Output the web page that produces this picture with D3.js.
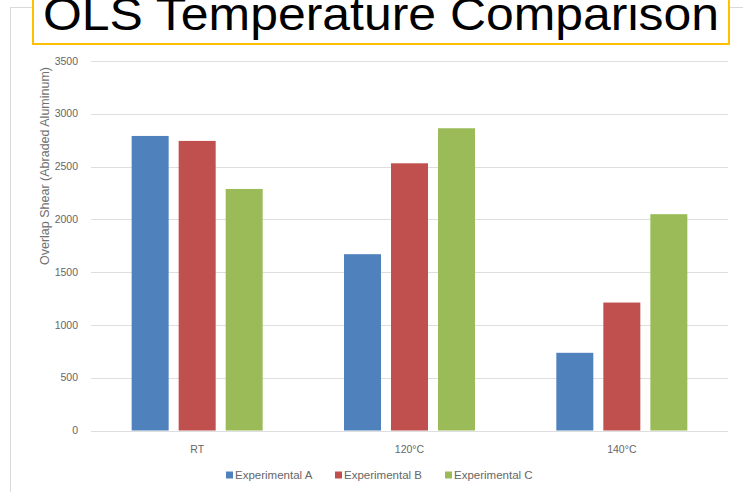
<!DOCTYPE html>
<html>
<head>
<meta charset="utf-8">
<script src="https://cdn.jsdelivr.net/npm/d3@7"></script>
<style>
  html, body { margin: 0; padding: 0; background: #fff; }
  svg { display: block; font-family: "Liberation Sans", Arial, sans-serif; }
</style>
</head>
<body>
<svg id="chart" width="743" height="492"></svg>
<script>
const categories = ["RT", "120°C", "140°C"];
const seriesNames = ["Experimental A", "Experimental B", "Experimental C"];
const experimentalA = [2790, 1670, 736];
const experimentalB = [2743, 2531, 1212];
const experimentalC = [2288, 2863, 2049];
const yTicks = [0, 500, 1000, 1500, 2000, 2500, 3000, 3500];
const colors = ["#4F81BD", "#C0504D", "#9BBB59"];
const titleText = "OLS Temperature Comparison";
const yTitle = "Overlap Shear (Abraded Aluminum)";

const seriesValues = [experimentalA, experimentalB, experimentalC];
const svg = d3.select("#chart");

// outer frame (light gray)
svg.append("line").attr("x1", 10.5).attr("x2", 10.5).attr("y1", 7.5).attr("y2", 492)
  .attr("stroke", "#d9d9d9").attr("stroke-width", 1);
svg.append("line").attr("x1", 10).attr("x2", 743).attr("y1", 7.5).attr("y2", 7.5)
  .attr("stroke", "#d9d9d9").attr("stroke-width", 1);

const plotLeft = 91, plotRight = 728, plotTop = 61, plotBottom = 430.5;

const y = d3.scaleLinear().domain([0, 3500]).range([plotBottom, plotTop]);
const x0 = d3.scaleBand().domain(categories).range([plotLeft, plotRight]).padding(0);
const groupW = x0.bandwidth() * 0.617;
const x1 = d3.scaleBand().domain(seriesNames).range([0, groupW]).paddingInner(0.213).paddingOuter(0);
const groupOffset = (x0.bandwidth() - groupW) / 2;

// gridlines
svg.append("g").selectAll("line").data(yTicks).join("line")
  .attr("x1", plotLeft).attr("x2", plotRight)
  .attr("y1", d => Math.round(y(d)) + 0.5).attr("y2", d => Math.round(y(d)) + 0.5)
  .attr("stroke", "#dedede").attr("stroke-width", 1);

// y tick labels
svg.append("g").selectAll("text").data(yTicks).join("text")
  .attr("x", 78).attr("y", d => y(d)).attr("dy", "0.35em")
  .attr("text-anchor", "end").attr("font-size", 10.5).attr("fill", "#666")
  .text(d => d);

// bars
const rows = categories.map((c, i) => ({ cat: c, vals: seriesNames.map((s, j) => ({ s, v: seriesValues[j][i], j })) }));
const groups = svg.append("g").selectAll("g").data(rows).join("g")
  .attr("transform", d => `translate(${x0(d.cat) + groupOffset},0)`);
groups.selectAll("rect").data(d => d.vals).join("rect")
  .attr("x", d => x1(d.s)).attr("width", x1.bandwidth())
  .attr("y", d => y(d.v)).attr("height", d => y(0) - y(d.v))
  .attr("fill", d => colors[d.j]);

// category labels
svg.append("g").selectAll("text").data(categories).join("text")
  .attr("x", d => x0(d) + x0.bandwidth() / 2).attr("y", 449).attr("dy", "0.35em")
  .attr("text-anchor", "middle").attr("font-size", 10.5).attr("fill", "#666")
  .text(d => d);

// y axis title
svg.append("text")
  .attr("transform", "translate(45,166) rotate(-90)")
  .attr("text-anchor", "middle").attr("dy", "0.35em")
  .attr("font-size", 12.5).attr("fill", "#707070")
  .text(yTitle);

// legend
const legendX = [226, 335, 445];
const lg = svg.append("g").selectAll("g").data(seriesNames).join("g")
  .attr("transform", (d, i) => `translate(${legendX[i]},475)`);
lg.append("rect").attr("x", 0).attr("y", -3.5).attr("width", 7).attr("height", 7)
  .attr("fill", (d, i) => colors[i]);
lg.append("text").attr("x", 9).attr("y", 0).attr("dy", "0.35em")
  .attr("font-size", 11.5).attr("fill", "#666").text(d => d);

// title box
svg.append("rect").attr("x", 33).attr("y", -5).attr("width", 696).attr("height", 49)
  .attr("fill", "#fff").attr("stroke", "#FFC000").attr("stroke-width", 2);
svg.append("text").attr("x", 43).attr("y", 30).attr("text-anchor", "start")
  .attr("font-size", 46).attr("textLength", 676).attr("lengthAdjust", "spacingAndGlyphs")
  .attr("fill", "#000").text(titleText);
</script>
</body>
</html>
